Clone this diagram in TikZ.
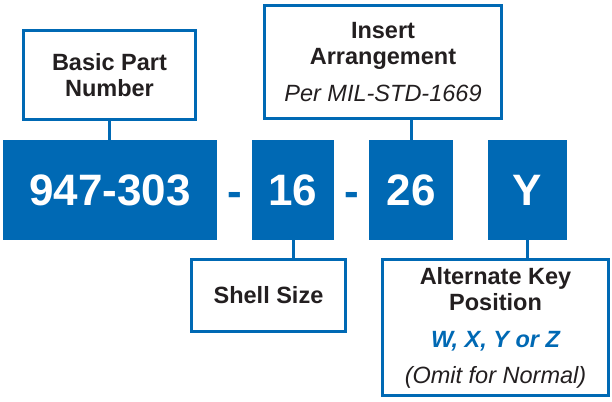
\documentclass[tikz,border=0pt]{standalone}
\usepackage{fontspec}
\setmainfont{Liberation Sans}
\usepackage{xcolor}
\usepackage{tikz}
\definecolor{partblue}{RGB}{0,105,180}
\definecolor{inkgray}{RGB}{35,31,32}

\begin{document}
\begin{tikzpicture}[x=1pt,y=-1pt,
    numbox/.style={fill=partblue, text=white, inner sep=0pt,
        font=\fontsize{44}{44}\selectfont\bfseries, minimum height=100pt},
    labelbox/.style={draw=partblue, line width=3pt, fill=white, text=inkgray,
        inner sep=0pt, align=center, font=\fontsize{23.5}{26}\selectfont\bfseries},
    link/.style={draw=partblue, line width=3pt}]
            \useasboundingbox (0,0) rectangle (612,401);

            % Part number boxes
            \node[numbox, minimum width=214pt] (pn) at (110,190) {947-303};
            \node[numbox, minimum width=82pt] (ss) at (293,190) {16};
            \node[numbox, minimum width=84pt] (ar) at (411,190) {26};
            \node[numbox, minimum width=79pt] (ky) at (527.5,190) {Y};

            % Dashes
            \node[text=partblue, font=\fontsize{44}{44}\selectfont\bfseries] (d1) at (235,199) {-};
            \node[text=partblue, font=\fontsize{44}{44}\selectfont\bfseries] (d2) at (352,199) {-};

            % Labels
            \node[labelbox, minimum width=172pt, minimum height=89pt] (basic) at (109.5,75)
                {Basic Part\\Number};
            \node[labelbox, minimum width=237pt, minimum height=113pt] (ins) at (383,62)
                {Insert\\Arrangement\\[11pt]{\mdseries\itshape Per MIL-STD-1669}};
            \node[labelbox, minimum width=154pt, minimum height=72pt] (shell) at (268.5,295.5)
                {Shell Size};
            \node[labelbox, minimum width=226pt, minimum height=136pt] (alt) at (495.5,327.5)
                {Alternate Key\\Position\\[11pt]{\color{partblue}\itshape W, X, Y or Z}\\[10pt]{\mdseries\itshape (Omit for Normal)}};

            % Connectors
            \draw[link] (basic.south) -- (basic.south |- pn.north);
            \draw[link] (ar.north) -- (ar.north |- ins.south);
            \draw[link] (ss.south) -- (ss.south |- shell.north);
            \draw[link] (ky.south) -- (ky.south |- alt.north);

        \end{tikzpicture}
\end{document}
